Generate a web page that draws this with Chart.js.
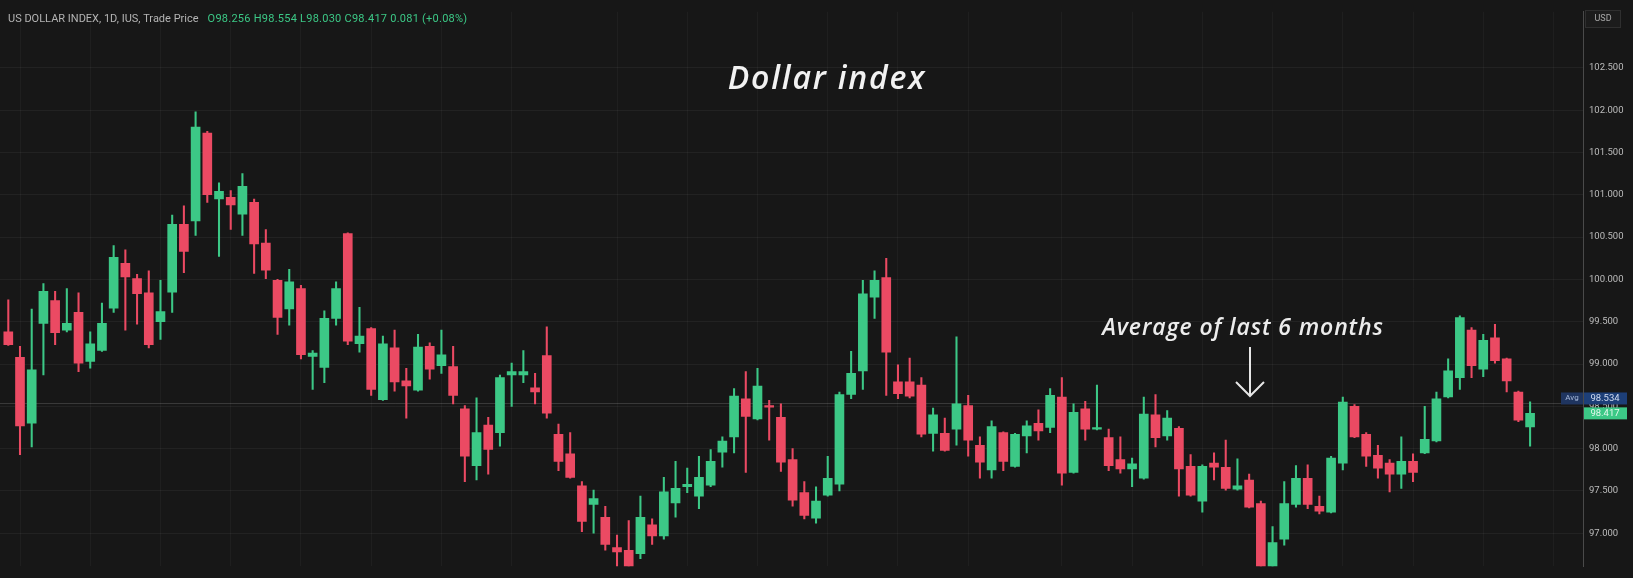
<!DOCTYPE html>
<html>
<head>
<meta charset="utf-8">
<title>Dollar index</title>
<script src="https://cdn.jsdelivr.net/npm/chart.js@4.4.1/dist/chart.umd.min.js"></script>
<style>
  html, body { margin: 0; padding: 0; background: #171717; overflow: hidden; }
  #wrap { position: relative; width: 1633px; height: 578px; }
</style>
</head>
<body>
<div id="wrap"><canvas id="chart" width="1633" height="578"></canvas></div>
<script>
// US Dollar Index, daily candles

const opens = [
  99.38, 99.08, 98.30, 99.48, 99.75, 99.40, 99.61, 99.03, 99.16, 99.66,
  100.19, 100.01, 99.84, 99.50, 99.85, 100.65, 100.69, 101.73, 100.95, 100.97,
  100.77, 100.91, 100.43, 99.99, 99.65, 99.89, 99.09, 98.96, 99.54, 100.54,
  99.24, 99.42, 98.58, 99.19, 98.80, 98.69, 99.21, 98.98, 98.97, 98.47,
  97.80, 98.28, 98.19, 98.87, 98.87, 98.72, 99.10, 98.17, 97.94, 97.56,
  97.34, 97.19, 96.83, 96.80, 96.76, 97.10, 96.97, 97.36, 97.55, 97.44,
  97.57, 97.96, 98.14, 98.59, 98.35, 98.51, 98.37, 97.87, 97.48, 97.18,
  97.45, 97.58, 98.64, 98.92, 99.79, 100.02, 98.79, 98.79, 98.75, 98.18,
  98.18, 98.23, 98.51, 98.04, 97.75, 98.19, 97.79, 98.15, 98.30, 98.25,
  98.61, 97.72, 98.47, 98.23, 98.13, 97.87, 97.76, 97.65, 98.40, 98.15,
  98.24, 97.79, 97.38, 97.83, 97.78, 97.52, 97.63, 97.35, 96.55, 96.93,
  97.34, 97.65, 97.32, 97.25, 97.83, 98.50, 98.17, 97.92, 97.83, 97.70,
  97.85, 97.95, 98.09, 98.61, 98.84, 99.40, 98.94, 99.31, 99.06, 98.67,
  98.256
];
const highs = [
  99.76, 99.21, 99.65, 99.95, 99.86, 99.89, 99.84, 99.38, 99.72, 100.40,
  100.35, 100.06, 100.10, 99.99, 100.76, 100.87, 101.98, 101.75, 101.14, 101.05,
  101.25, 100.95, 100.59, 100.00, 100.12, 99.93, 99.16, 99.63, 99.97, 100.55,
  99.67, 99.43, 99.33, 99.40, 98.95, 99.35, 99.25, 99.40, 99.21, 98.51,
  98.60, 98.37, 98.87, 99.01, 99.16, 98.89, 99.44, 98.29, 98.19, 97.61,
  97.51, 97.32, 96.98, 97.15, 97.44, 97.17, 97.66, 97.85, 97.77, 97.91,
  97.99, 98.14, 98.71, 98.91, 98.95, 98.57, 98.53, 98.00, 97.61, 97.55,
  97.91, 98.67, 99.15, 99.99, 100.10, 100.25, 98.99, 99.07, 98.84, 98.48,
  98.36, 99.32, 98.63, 98.14, 98.33, 98.20, 98.18, 98.33, 98.46, 98.71,
  98.84, 98.53, 98.56, 98.75, 98.23, 98.14, 97.89, 98.61, 98.64, 98.45,
  98.26, 97.93, 97.81, 97.95, 98.10, 97.88, 97.70, 97.38, 97.08, 97.61,
  97.80, 97.81, 97.44, 97.91, 98.61, 98.52, 98.19, 98.04, 97.87, 98.14,
  97.94, 98.50, 98.67, 99.06, 99.57, 99.43, 99.35, 99.47, 99.07, 98.68,
  98.554
];
const lows = [
  99.22, 97.93, 98.02, 98.87, 99.23, 99.38, 98.91, 98.95, 99.15, 99.61,
  99.40, 99.47, 99.19, 99.29, 99.61, 100.08, 100.52, 100.91, 100.27, 100.59,
  100.52, 100.07, 100.01, 99.35, 99.46, 99.06, 98.70, 98.78, 99.46, 99.23,
  99.14, 98.63, 98.57, 98.68, 98.36, 98.68, 98.82, 98.89, 98.53, 97.61,
  97.63, 97.70, 98.03, 98.50, 98.78, 98.53, 98.36, 97.74, 97.65, 97.02,
  97.00, 96.80, 96.58, 96.55, 96.70, 96.87, 96.93, 97.19, 97.48, 97.29,
  97.55, 97.78, 97.95, 97.72, 98.34, 98.10, 97.73, 97.32, 97.17, 97.12,
  97.44, 97.50, 98.59, 98.70, 99.54, 98.63, 98.59, 98.60, 98.14, 97.97,
  97.97, 98.04, 97.91, 97.65, 97.65, 97.74, 97.78, 97.95, 98.10, 98.19,
  97.57, 97.71, 98.10, 98.22, 97.74, 97.71, 97.55, 97.64, 98.02, 98.10,
  97.44, 97.44, 97.25, 97.63, 97.51, 97.51, 97.30, 96.50, 96.45, 96.86,
  97.31, 97.29, 97.23, 97.24, 97.75, 98.13, 97.79, 97.65, 97.49, 97.53,
  97.61, 97.94, 98.08, 98.60, 98.70, 98.84, 98.85, 99.01, 98.67, 98.32,
  98.030
];
const closes = [
  99.23, 98.27, 98.93, 99.86, 99.37, 99.48, 99.01, 99.24, 99.48, 100.26,
  100.03, 99.83, 99.23, 99.62, 100.65, 100.33, 101.80, 101.00, 101.04, 100.88,
  101.10, 100.42, 100.11, 99.55, 99.97, 99.11, 99.13, 99.54, 99.89, 99.27,
  99.33, 98.70, 99.24, 98.79, 98.74, 99.20, 98.94, 99.11, 98.63, 97.91,
  98.19, 97.99, 98.84, 98.91, 98.91, 98.67, 98.42, 97.85, 97.66, 97.14,
  97.41, 96.87, 96.78, 96.60, 97.19, 96.97, 97.49, 97.53, 97.58, 97.66,
  97.85, 98.09, 98.62, 98.38, 98.74, 98.49, 97.84, 97.39, 97.21, 97.38,
  97.65, 98.64, 98.89, 99.83, 99.99, 99.14, 98.65, 98.62, 98.17, 98.40,
  97.98, 98.53, 98.10, 97.84, 98.26, 97.85, 98.17, 98.27, 98.21, 98.63,
  97.71, 98.43, 98.23, 98.25, 97.80, 97.76, 97.82, 98.41, 98.13, 98.36,
  97.76, 97.45, 97.79, 97.78, 97.53, 97.56, 97.31, 96.55, 96.89, 97.35,
  97.65, 97.34, 97.26, 97.89, 98.55, 98.14, 97.91, 97.77, 97.70, 97.85,
  97.72, 98.11, 98.59, 98.92, 99.55, 98.98, 99.28, 99.04, 98.80, 98.336,
  98.417
];

const yTicks = [97, 97.5, 98, 98.5, 99, 99.5, 100, 100.5, 101, 101.5, 102, 102.5];
const timeGrid = [1, 7, 13, 19, 25, 31, 37, 43, 52, 58, 64, 70, 76, 82, 90, 96, 102, 108, 114, 120, 126, 132];

const avgPrice = 98.534;
const lastPrice = 98.417;
const headerName = 'US DOLLAR INDEX, 1D, IUS, Trade Price';
const headerValues = 'O98.256 H98.554 L98.030 C98.417 0.081 (+0.08%)';

const UP = '#3cc886';
const DOWN = '#eb4a63';
const BG = '#171717';

const idx = opens.map((_, i) => i);
const wickData = idx.map(i => ({ x: i, y: [lows[i], highs[i]] }));
const bodyData = idx.map(i => ({ x: i, y: [opens[i], closes[i]] }));
const candleColor = ctx => closes[ctx.dataIndex] >= opens[ctx.dataIndex] ? UP : DOWN;

const overlay = {
    id: 'overlay',
    beforeDraw(chart) {
        const c = chart.ctx;
        c.save();
        c.fillStyle = BG;
        c.fillRect(0, 0, chart.width, chart.height);
        c.restore();
    },
    beforeDatasetsDraw(chart) {
        const c = chart.ctx;
        const area = chart.chartArea;
        const y = chart.scales.y.getPixelForValue(avgPrice);
        c.save();
        c.strokeStyle = 'rgba(255,255,255,0.15)';
        c.lineWidth = 1;
        c.beginPath();
        c.moveTo(area.left, Math.round(y) + 0.5);
        c.lineTo(area.right, Math.round(y) + 0.5);
        c.stroke();
        c.restore();
    },
    afterDraw(chart) {
        const c = chart.ctx;
        const area = chart.chartArea;
        const ys = chart.scales.y;
        c.save();

        // header line
        c.textBaseline = 'middle';
        c.textAlign = 'left';
        c.font = '11px Roboto';
        c.fillStyle = '#b4b4b4';
        c.fillText(headerName, 8, 19);
        const w = c.measureText(headerName).width;
        c.fillStyle = UP;
        c.letterSpacing = '0.25px';
        c.fillText(headerValues, 8 + w + 9, 19);
        c.letterSpacing = '0px';

        // currency button
        c.fillStyle = '#1c1c1c';
        c.strokeStyle = '#2f2f2f';
        c.lineWidth = 1;
        c.fillRect(1585.5, 10.5, 35, 17);
        c.strokeRect(1585.5, 10.5, 35, 17);
        c.fillStyle = '#a8a8a8';
        c.font = '9px Roboto';
        c.textAlign = 'center';
        c.fillText('USD', 1603, 19);

        // title
        c.fillStyle = '#f2f2f2';
        c.textBaseline = 'alphabetic';
        c.font = 'italic 600 32px "Open Sans"';
        c.letterSpacing = '1.8px';
        c.fillText('Dollar index', 827, 89);

        // annotation + arrow
        c.font = 'italic 600 23px "Open Sans"';
        c.letterSpacing = '0.9px';
        c.fillStyle = '#ececec';
        c.fillText('Average of last 6 months', 1243, 335);
        c.letterSpacing = '0px';
        c.strokeStyle = '#e6e6e6';
        c.lineWidth = 2;
        c.beginPath();
        c.moveTo(1250, 347);
        c.lineTo(1250, 396);
        c.moveTo(1236, 382);
        c.lineTo(1250, 396);
        c.lineTo(1264, 382);
        c.stroke();

        // price labels on the axis
        const avgY = ys.getPixelForValue(avgPrice) - 5;
        const lastY = ys.getPixelForValue(lastPrice);
        c.textBaseline = 'middle';
        c.fillStyle = '#1f3560';
        c.fillRect(1561, avgY - 6, 22, 12);
        c.fillStyle = '#1d3f78';
        c.fillRect(area.right + 1, avgY - 6, 43, 12);
        c.font = '8px Roboto';
        c.fillStyle = '#a9bbdc';
        c.fillText('Avg', 1572, avgY);
        c.font = '9.5px Roboto';
        c.fillStyle = '#d2dcf0';
        c.fillText(avgPrice.toFixed(3), area.right + 22, avgY);

        c.fillStyle = UP;
        c.fillRect(area.right + 1, lastY - 6, 43, 12);
        c.fillStyle = '#e3f8ec';
        c.fillText(lastPrice.toFixed(3), area.right + 22, lastY);
        c.restore();
    }
};

new Chart(document.getElementById('chart'), {
    type: 'bar',
    data: {
        datasets: [{
            label: 'wick',
            data: wickData,
            backgroundColor: candleColor,
            barThickness: 1.4,
            grouped: false,
            order: 2
        }, {
            label: 'body',
            data: bodyData,
            backgroundColor: candleColor,
            barThickness: 9,
            minBarLength: 1.5,
            grouped: false,
            order: 1
        }]
    },
    options: {
        responsive: false,
        animation: false,
        layout: { padding: 0 },
        plugins: {
            legend: { display: false },
            tooltip: { enabled: false }
        },
        scales: {
            x: {
                type: 'linear',
                offset: false,
                min: -0.709,
                max: 134.52,
                afterBuildTicks: s => { s.ticks = timeGrid.map(v => ({ value: v })); },
                afterFit: s => { s.height = 0; },
                ticks: { display: false },
                grid: { color: 'rgba(255,255,255,0.035)', drawTicks: false, offset: false },
                border: { display: false }
            },
            y: {
                position: 'right',
                min: 96.61,
                max: 103.163,
                afterBuildTicks: s => { s.ticks = yTicks.map(v => ({ value: v })); },
                afterFit: s => { s.width = 50; },
                ticks: {
                    color: '#bdbdbd',
                    font: { family: 'Roboto', size: 9.5 },
                    padding: 6,
                    callback: v => Number(v).toFixed(3)
                },
                grid: { color: 'rgba(255,255,255,0.05)', drawTicks: false },
                border: { color: '#4a4a4a' }
            }
        }
    },
    plugins: [overlay]
});
</script>
</body>
</html>
